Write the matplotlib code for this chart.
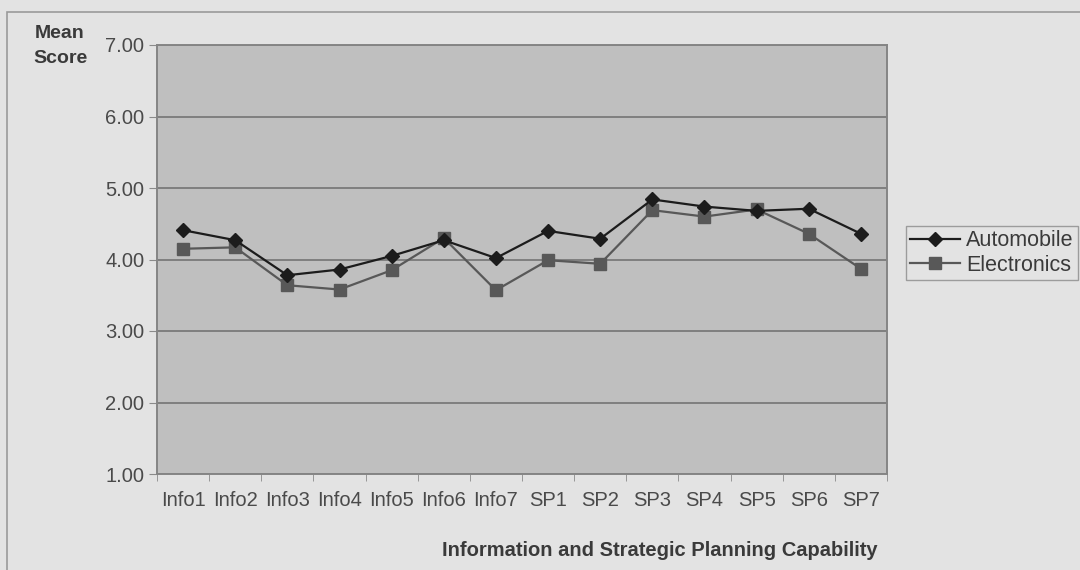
import matplotlib
matplotlib.use("Agg")
import matplotlib.pyplot as plt
from matplotlib.patches import Rectangle
from matplotlib.ticker import FixedLocator, FuncFormatter

# Mean scores per capability item
categories = ["Info1", "Info2", "Info3", "Info4", "Info5", "Info6", "Info7",
              "SP1", "SP2", "SP3", "SP4", "SP5", "SP6", "SP7"]
automobile = [4.41, 4.27, 3.78, 3.86, 4.05, 4.27, 4.02,
              4.40, 4.29, 4.84, 4.74, 4.68, 4.71, 4.36]
electronics = [4.15, 4.17, 3.64, 3.58, 3.85, 4.30, 3.57,
               3.99, 3.94, 4.69, 4.60, 4.70, 4.36, 3.87]
y_ticks = [1.0, 2.0, 3.0, 4.0, 5.0, 6.0, 7.0]

plt.rcParams["font.family"] = ["Liberation Sans", "DejaVu Sans"]

W, H = 1080, 570
fig = plt.figure(figsize=(W / 100, H / 100), dpi=100)
fig.patch.set_facecolor("#e3e3e3")

# outer chart frame
fig.patches.append(Rectangle((7 / W, -0.05), 1.1, (H - 12) / H + 0.05,
                             transform=fig.transFigure, fill=False,
                             edgecolor="#9a9a9a", linewidth=1.2))

ax = fig.add_axes([157 / W, 1 - 474 / H, 730 / W, 429 / H])
ax.set_facecolor("#bfbfbf")

x = list(range(len(categories)))
ax.plot(x, automobile, color="#1c1c1c", linewidth=1.6, marker="D",
        markersize=7.5, markerfacecolor="#1c1c1c", markeredgecolor="#1c1c1c",
        label="Automobile", zorder=4)
ax.plot(x, electronics, color="#585858", linewidth=1.6, marker="s",
        markersize=8, markerfacecolor="#585858", markeredgecolor="#585858",
        label="Electronics", zorder=3)

ax.set_xlim(-0.5, len(categories) - 0.5)
ax.set_ylim(y_ticks[0], y_ticks[-1])

ax.yaxis.set_major_locator(FixedLocator(y_ticks))
ax.yaxis.set_major_formatter(FuncFormatter(lambda v, p: f"{v:.2f}"))
ax.grid(axis="y", color="#7f7f7f", linewidth=1.4)
ax.set_axisbelow(True)

ax.set_xticks(x)
ax.set_xticklabels(categories)
ax.set_xticks([i - 0.5 for i in range(len(categories) + 1)], minor=True)
ax.tick_params(axis="x", which="major", length=0, pad=12,
               labelsize=14.5, labelcolor="#4a4a4a")
ax.tick_params(axis="x", which="minor", length=5, color="#8a8a8a",
               direction="out")
ax.tick_params(axis="y", length=6, color="#8a8a8a", pad=3,
               labelsize=14.5, labelcolor="#4a4a4a")

for side, sp in ax.spines.items():
    sp.set_color("#858585")
    sp.set_linewidth(1.4)

fig.text(60 / W, 1 - 25 / H, "Mean\nScore", ha="center", va="top",
         fontsize=14, fontweight="bold", color="#3a3a3a", linespacing=1.6)
fig.text(660 / W, 1 - 550 / H, "Information and Strategic Planning Capability",
         ha="center", va="center", fontsize=14.5, fontweight="bold",
         color="#3a3a3a")

leg = fig.legend(loc="upper left", bbox_to_anchor=(906 / W, 1 - 226 / H),
                 frameon=True, fontsize=15.5, handlelength=2.3,
                 handletextpad=0.3, borderpad=0.2, labelspacing=0.15,
                 fancybox=False, borderaxespad=0)
leg.get_frame().set_edgecolor("#8a8a8a")
leg.get_frame().set_facecolor("#e3e3e3")
leg.get_frame().set_linewidth(1.0)
for t in leg.get_texts():
    t.set_color("#3a3a3a")

fig.savefig("out.png", dpi=100, facecolor=fig.get_facecolor())
